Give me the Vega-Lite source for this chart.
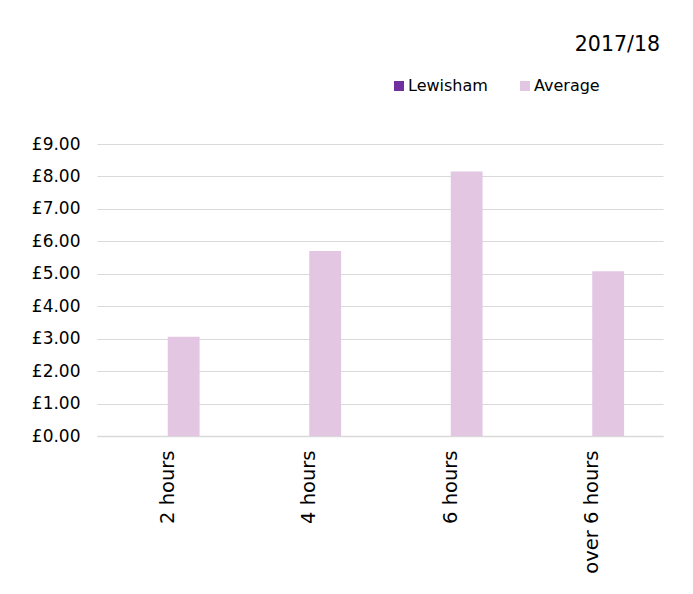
{
  "$schema": "https://vega.github.io/schema/vega-lite/v6.json",
  "autosize": "none",
  "width": 566,
  "height": 292,
  "padding": {"left": 97, "top": 144, "right": 30, "bottom": 158},
  "background": "white",
  "title": {"text": "2017/18", "anchor": "end", "frame": "group", "offset": 23, "fontSize": 20.5, "font": "DejaVu Sans", "fontWeight": "normal", "color": "#000000", "dx": -3},
  "data": {"values": [
    {"duration": "2 hours", "series": "Lewisham", "cost": 0},
    {"duration": "2 hours", "series": "Average", "cost": 3.06},
    {"duration": "4 hours", "series": "Lewisham", "cost": 0},
    {"duration": "4 hours", "series": "Average", "cost": 5.7},
    {"duration": "6 hours", "series": "Lewisham", "cost": 0},
    {"duration": "6 hours", "series": "Average", "cost": 8.15},
    {"duration": "over 6 hours", "series": "Lewisham", "cost": 0},
    {"duration": "over 6 hours", "series": "Average", "cost": 5.08}
  ]},
  "mark": {"type": "bar"},
  "encoding": {
    "x": {"field": "duration", "type": "nominal", "sort": ["2 hours", "4 hours", "6 hours", "over 6 hours"],
      "scale": {"paddingInner": 0.55, "paddingOuter": 0.275},
      "axis": {"title": null, "labelAngle": -90, "labelFontSize": 19.5, "labelFont": "DejaVu Sans", "labelColor": "#000000", "labelPadding": 14, "ticks": false, "domainColor": "#D9D9D9", "domainWidth": 1.5}},
    "xOffset": {"field": "series", "type": "nominal", "sort": ["Lewisham", "Average"], "scale": {"paddingInner": 0, "paddingOuter": 0}},
    "y": {"field": "cost", "type": "quantitative", "scale": {"domain": [0, 9]},
      "axis": {"title": null, "values": [0,1,2,3,4,5,6,7,8,9], "labelExpr": "'£' + format(datum.value, '.2f')", "labelFontSize": 17, "labelFont": "DejaVu Sans", "labelColor": "#000000", "labelPadding": 17, "ticks": false, "domain": false, "gridColor": "#D9D9D9", "gridWidth": 1}},
    "color": {"field": "series", "type": "nominal", "sort": ["Lewisham", "Average"],
      "scale": {"domain": ["Lewisham", "Average"], "range": ["#7030A0", "#E2C6E2"]},
      "legend": {"title": null, "orient": "none", "legendX": 294, "legendY": -66, "direction": "horizontal", "symbolType": "square", "symbolSize": 100, "symbolStrokeWidth": 0, "symbolOpacity": 1, "labelFontSize": 16, "labelFont": "DejaVu Sans", "labelColor": "#000000", "labelOffset": 1, "columnPadding": 29}}
  },
  "config": {"view": {"stroke": null}}
}
